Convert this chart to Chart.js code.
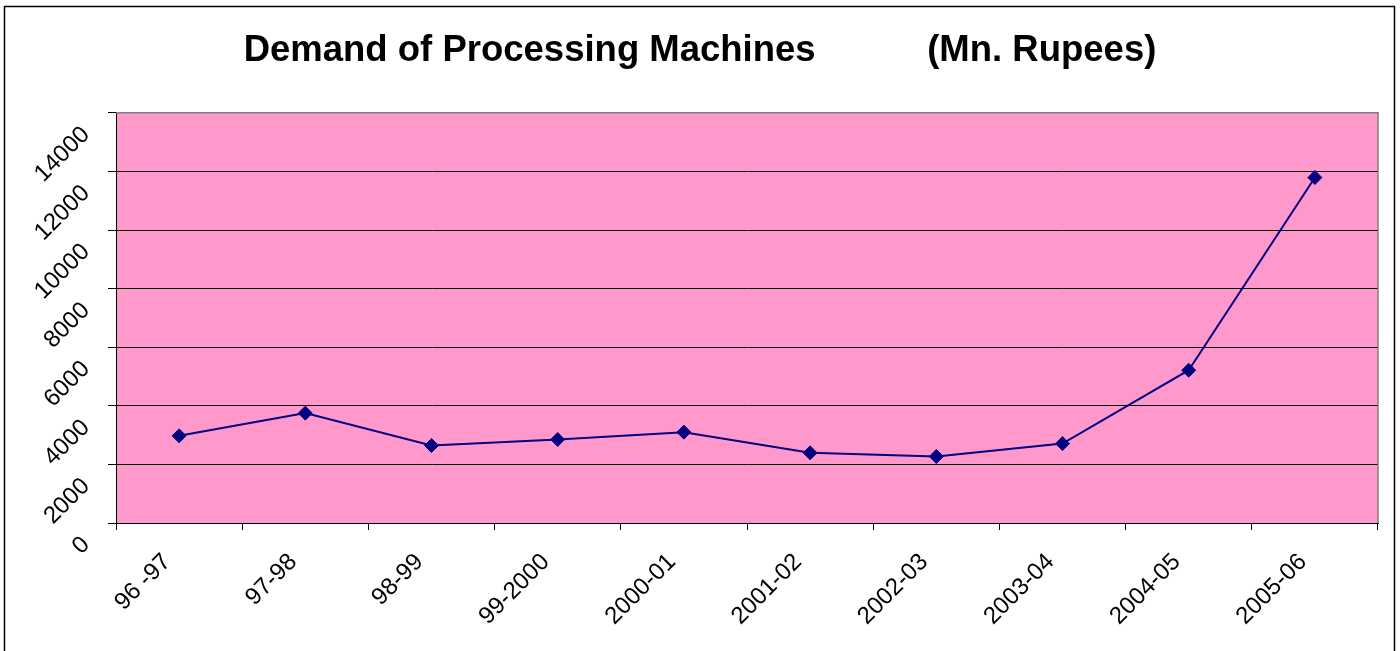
<!DOCTYPE html>
<html>
<head>
<meta charset="utf-8">
<title>Demand of Processing Machines</title>
<script src="https://cdn.jsdelivr.net/npm/chart.js@4.4.1/dist/chart.umd.min.js"></script>
<style>
  html, body { margin: 0; padding: 0; background: #fff; overflow: hidden; }
  canvas { display: block; }
</style>
</head>
<body>
<canvas id="chart" width="1400" height="651"></canvas>
<script>
// Datos (Mn. Rupees)
const years = ['96 -97', '97-98', '98-99', '99-2000', '2000-01', '2001-02', '2002-03', '2003-04', '2004-05', '2005-06'];
const demand = [2975, 3750, 2645, 2850, 3100, 2395, 2270, 2710, 5215, 11790];
const yTicks = [0, 2000, 4000, 6000, 8000, 10000, 12000, 14000];

const FONT = "'Liberation Sans', Arial, Helvetica, sans-serif";
const TITLE = 'Demand of Processing Machines' + ' '.repeat(11) + '(Mn. Rupees)';

// Fondo rosa del área de trazado, borde gris y marco exterior
const plotFrame = {
  id: 'plotFrame',
  beforeDraw(chart) {
    const { ctx, chartArea: a } = chart;
    ctx.save();
    ctx.fillStyle = '#ffffff';
    ctx.fillRect(0, 0, chart.width, chart.height);
    ctx.fillStyle = '#ff99cc';
    ctx.fillRect(a.left, a.top, a.right - a.left, a.bottom - a.top);
    ctx.restore();
  },
  afterDraw(chart) {
    const { ctx, chartArea: a } = chart;
    ctx.save();
    ctx.strokeStyle = '#808080';
    ctx.lineWidth = 1.5;
    ctx.beginPath();
    ctx.moveTo(a.left, a.top);
    ctx.lineTo(a.right, a.top);
    ctx.lineTo(a.right, a.bottom);
    ctx.stroke();
    ctx.strokeStyle = '#000000';
    ctx.lineWidth = 1.5;
    ctx.strokeRect(4.5, 6.5, 1390, 660);
    ctx.restore();
  }
};

new Chart(document.getElementById('chart').getContext('2d'), {
  type: 'line',
  data: {
    labels: years,
    datasets: [{
      label: 'Demand',
      data: demand,
      borderColor: '#000080',
      borderWidth: 2,
      tension: 0,
      pointStyle: 'rectRot',
      pointRadius: 7,
      pointBackgroundColor: '#000080',
      pointBorderColor: '#000080',
      pointBorderWidth: 1,
      clip: false
    }]
  },
  options: {
    responsive: false,
    animation: false,
    events: [],
    layout: { padding: { left: 22, right: 22, top: 0, bottom: 0 } },
    plugins: {
      legend: { display: false },
      tooltip: { enabled: false },
      title: {
        display: true,
        text: TITLE,
        color: '#000',
        font: { family: FONT, size: 36.5, weight: 'bold' },
        padding: { top: 29, bottom: 40 }
      }
    },
    scales: {
      x: {
        type: 'category',
        offset: true,
        grid: { display: true, drawOnChartArea: false, drawTicks: true, tickLength: 7, offset: true, color: '#000' },
        border: { color: '#000', width: 1 },
        ticks: {
          color: '#000',
          font: { family: FONT, size: 24 },
          minRotation: 45,
          maxRotation: 45,
          autoSkip: false,
          padding: 18,
          labelOffset: -12
        },
        afterFit: s => { s.height = 128; }
      },
      y: {
        min: 0,
        max: 14000,
        afterBuildTicks: s => { s.ticks = yTicks.map(v => ({ value: v })); },
        grid: { color: '#000', tickLength: 8, drawTicks: true },
        border: { color: '#000', width: 1 },
        ticks: {
          color: '#000',
          font: { family: FONT, size: 24 },
          minRotation: 45,
          maxRotation: 90,
          padding: 22,
          labelOffset: 18,
          callback: v => String(v)
        },
        afterFit: s => { s.width = 94; }
      }
    }
  },
  plugins: [plotFrame]
});
</script>
</body>
</html>
